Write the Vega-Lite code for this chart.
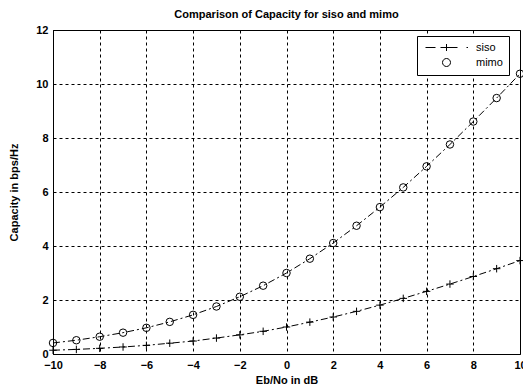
{
  "$schema": "https://vega.github.io/schema/vega-lite/v6.json",
  "autosize": "none",
  "width": 467,
  "height": 324,
  "padding": {"left": 53, "top": 30, "right": 3, "bottom": 33},
  "background": "white",
  "title": {"text": "Comparison of Capacity for siso and mimo", "font": "Liberation Sans", "fontSize": 11, "fontWeight": "bold", "color": "black", "offset": 4},
  "config": {
    "view": {"stroke": "black", "strokeWidth": 1},
    "axis": {
      "labelFont": "Liberation Sans", "labelFontSize": 11, "labelFontWeight": "bold", "labelColor": "black",
      "titleFont": "Liberation Sans", "titleFontSize": 11, "titleFontWeight": "bold", "titleColor": "black",
      "domainColor": "black", "ticks": false, "labelPadding": 5,
      "gridColor": "black", "gridDash": [3, 3], "gridOpacity": 1, "gridWidth": 1,
      "labelFlush": false, "labelOverlap": false
    }
  },
  "data": {"values": [
    {"x": -10, "series": "siso", "c": 0.14}, {"x": -9, "series": "siso", "c": 0.17}, {"x": -8, "series": "siso", "c": 0.21},
    {"x": -7, "series": "siso", "c": 0.26}, {"x": -6, "series": "siso", "c": 0.32}, {"x": -5, "series": "siso", "c": 0.40},
    {"x": -4, "series": "siso", "c": 0.48}, {"x": -3, "series": "siso", "c": 0.59}, {"x": -2, "series": "siso", "c": 0.71},
    {"x": -1, "series": "siso", "c": 0.84}, {"x": 0, "series": "siso", "c": 1.0}, {"x": 1, "series": "siso", "c": 1.18},
    {"x": 2, "series": "siso", "c": 1.37}, {"x": 3, "series": "siso", "c": 1.58}, {"x": 4, "series": "siso", "c": 1.81},
    {"x": 5, "series": "siso", "c": 2.06}, {"x": 6, "series": "siso", "c": 2.32}, {"x": 7, "series": "siso", "c": 2.59},
    {"x": 8, "series": "siso", "c": 2.87}, {"x": 9, "series": "siso", "c": 3.16}, {"x": 10, "series": "siso", "c": 3.46},
    {"x": -10, "series": "mimo", "c": 0.41}, {"x": -9, "series": "mimo", "c": 0.51}, {"x": -8, "series": "mimo", "c": 0.64},
    {"x": -7, "series": "mimo", "c": 0.79}, {"x": -6, "series": "mimo", "c": 0.97}, {"x": -5, "series": "mimo", "c": 1.19},
    {"x": -4, "series": "mimo", "c": 1.45}, {"x": -3, "series": "mimo", "c": 1.76}, {"x": -2, "series": "mimo", "c": 2.12},
    {"x": -1, "series": "mimo", "c": 2.53}, {"x": 0, "series": "mimo", "c": 3.0}, {"x": 1, "series": "mimo", "c": 3.53},
    {"x": 2, "series": "mimo", "c": 4.11}, {"x": 3, "series": "mimo", "c": 4.75}, {"x": 4, "series": "mimo", "c": 5.44},
    {"x": 5, "series": "mimo", "c": 6.17}, {"x": 6, "series": "mimo", "c": 6.95}, {"x": 7, "series": "mimo", "c": 7.76},
    {"x": 8, "series": "mimo", "c": 8.61}, {"x": 9, "series": "mimo", "c": 9.48}, {"x": 10, "series": "mimo", "c": 10.38}
  ]},
  "encoding": {
    "x": {"field": "x", "type": "quantitative", "scale": {"domain": [-10, 10], "nice": false},
          "axis": {"values": [-10, -8, -6, -4, -2, 0, 2, 4, 6, 8, 10], "title": "Eb/No in dB", "titlePadding": 4}},
    "y": {"field": "c", "type": "quantitative", "scale": {"domain": [0, 12], "nice": false},
          "axis": {"values": [0, 2, 4, 6, 8, 10, 12], "title": "Capacity in bps/Hz", "titlePadding": 16}}
  },
  "layer": [
    {
      "mark": {"type": "line", "color": "black", "strokeWidth": 1, "strokeDash": [7, 3, 2, 3]},
      "encoding": {"detail": {"field": "series"}}
    },
    {
      "mark": {"type": "point", "filled": false, "color": "black", "strokeWidth": 1, "size": 56, "opacity": 1},
      "encoding": {
        "shape": {"field": "series", "type": "nominal",
          "scale": {"domain": ["siso", "mimo"], "range": ["M-1,0L1,0M0,-1L0,1", "circle"]},
          "legend": null
        }
      }
    },
    {
      "mark": {"type": "point", "filled": false, "color": "black", "strokeWidth": 1, "size": 0, "opacity": 1},
      "encoding": {
        "shape": {"field": "series", "type": "nominal",
          "scale": {"domain": ["siso", "mimo"], "range": ["M-4.2,0L-2.2,0M-1.2,0L2.2,0M0,-0.7L0,0.7M4.0,0L4.3,0", "M0.8,0A0.8,0.8,0,1,1,-0.8,0A0.8,0.8,0,1,1,0.8,0"]},
          "legend": {
            "title": null, "orient": "none", "legendX": 364, "legendY": 6,
            "strokeColor": "black", "fillColor": "white", "padding": 6,
            "symbolSize": 100, "symbolStrokeColor": "black", "symbolFillColor": "transparent", "symbolStrokeWidth": 1,
            "symbolOffset": 18, "labelOffset": 24, "rowPadding": 3,
            "labelFont": "Liberation Sans", "labelFontSize": 11, "labelColor": "black"
          }
        }
      }
    }
  ],
  "resolve": {"scale": {"shape": "independent"}, "legend": {"shape": "independent"}}
}
